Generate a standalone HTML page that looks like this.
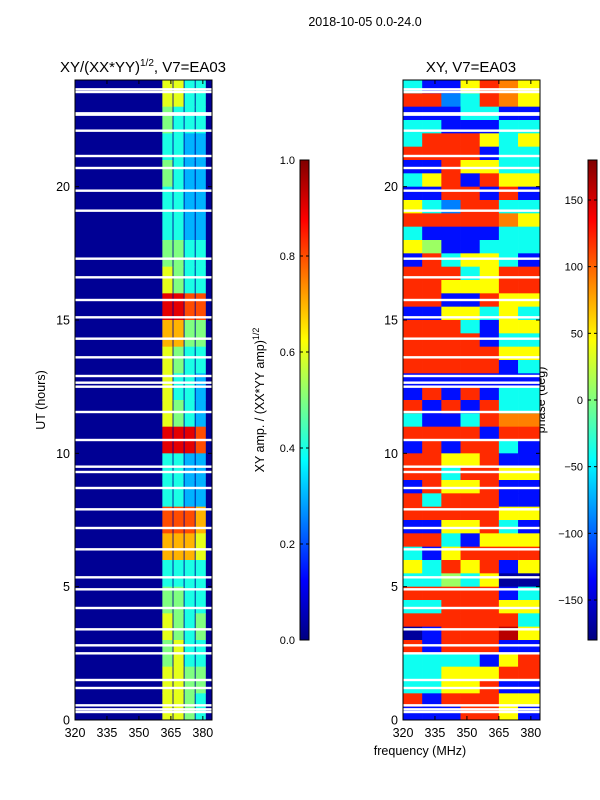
<!DOCTYPE html>
<html><head><meta charset="utf-8"><style>
body{margin:0;background:#fff;width:600px;height:800px;overflow:hidden}
svg{display:block;font-family:"Liberation Sans",sans-serif}
</style></head><body>
<svg id="s" width="600" height="800" xmlns="http://www.w3.org/2000/svg">
<text x="365" y="26" font-size="12.5" text-anchor="middle">2018-10-05 0.0-24.0</text>
<text x="143" y="72" font-size="15" text-anchor="middle">XY/(XX*YY)<tspan font-size="10" dy="-6">1/2</tspan><tspan dy="6">, V7=EA03</tspan></text>
<text x="471" y="72" font-size="15" text-anchor="middle">XY, V7=EA03</text>
<text transform="translate(45,400) rotate(-90)" font-size="12.5" text-anchor="middle">UT (hours)</text>
<text x="420" y="755" font-size="12.5" text-anchor="middle">frequency (MHz)</text>
<text transform="translate(264,400) rotate(-90)" font-size="12.5" text-anchor="middle">XY amp. / (XX*YY amp)<tspan font-size="9" dy="-5">1/2</tspan></text>
<text transform="translate(545,400) rotate(-90)" font-size="12.5" text-anchor="middle">phase (deg)</text>
<g id="g"></g>
</svg>
<script>
// ---- data ----
const hourRowsAmp = 24; // rows: hour 23-24 first
const ampSubbands = [[361,365.8],[366.2,371],[371.4,376.2],[376.6,381.4]];
const ampBackground = 0.02;
const ampValues = [
[6,6,4,4],[5,4,4,4],[4,4,3,3],[5,4,3,3],[4,4,3,3],[4,4,3,3],[5,5,4,4],[6,5,4,4],
[9,9,8,8],[7,7,5,5],[6,5,4,4],[6,4,4,3],[6,5,4,3],[9,9,9,8],[4,4,3,3],[4,4,3,3],
[8,8,8,7],[7,7,7,6],[4,4,4,4],[5,5,4,4],[6,5,4,5],[5,6,4,4],[6,6,5,5],[6,6,5,4]];
const phaseCols = [320,329,338,347,356,365,374,384.3];
const phaseCodes = {R:160,r:120,o:90,y:45,g:10,c:-40,l:-90,b:-130,B:-170};
const phaseRows = ["cbbyroy","rrlcroy","bbbccbb","ccbbbcc","crrrycy","rrrrbcc","bbryycc","cyrbryy",
"bbrrbrb","yclrrcc","rrrrroy","cbbbbcc","ygbbccc","brcyycb","rrrcyrr","rryyyrr",
"rrbbryy","bbyycyc","rrrcbyy","rrrrbcc","rrrrryy","rrrrrbc","bbbbbbb","brbrbcc",
"rbrbrcc","cbbcroo","rrrrbrr","brbrrcb","rryyrbb","rrcrryy","bryyrbb","rcrrrbb",
"rrrrryy","bbyyrcb","rrcbyyy","cbyrrrr","ycryrby","ccgcyBB","rrrrrbc","ccrrryy",
"rrrrrrc","BbrrrRy","rbrrrbb","ccccbyr","ccyyyrr","ccyyrbb","rbrrryy","bbbrryb"];
const gapHours = [23.65,23.55,22.75,22.7,22.1,21.15,20.7,19.85,19.1,17.3,16.6,15.75,15.1,14.3,13.6,12.9,12.65,12.5,11.55,10.5,9.5,9.3,8.7,7.9,7.2,6.4,5.35,4.9,4.2,3.4,2.8,2.5,1.5,1.2,0.55,0.4,0.3];
const yTicks = [0,5,10,15,20];
const xTicks = [320,335,350,365,380];
const ampTicks = [0,0.2,0.4,0.6,0.8,1.0];
const phaseTicks = [-150,-100,-50,0,50,100,150];

// ---- helpers ----
const NS="http://www.w3.org/2000/svg", G=document.getElementById('g');
function mk(t,a,p){const e=document.createElementNS(NS,t);for(const k in a)e.setAttribute(k,a[k]);(p||G).appendChild(e);return e;}
function jet(v){v=Math.max(0,Math.min(1,v));const f=x=>Math.round(255*Math.max(0,Math.min(1,x)));
return `rgb(${f(1.5-Math.abs(4*v-3))},${f(1.5-Math.abs(4*v-2))},${f(1.5-Math.abs(4*v-1))})`;}
const Y0=720,Y1=80,H0=0,H1=24;
const yS=h=>Y0-(h-H0)/(H1-H0)*(Y0-Y1);
const F0=320,F1=384.3;
function xS(px0,px1){return f=>px0+(f-F0)/(F1-F0)*(px1-px0);}
const panels=[{x0:75,x1:212,n:'amp'},{x0:403,x1:540,n:'phase'}];

// left amp panel
{const xs=xS(75,212);
 const bg=mk('rect',{x:75,y:80,width:137,height:640,fill:jet(ampBackground)});
 
 ampValues.forEach((row,i)=>{const hTop=H1-i*(H1-H0)/hourRowsAmp,hBot=hTop-(H1-H0)/hourRowsAmp;
  row.forEach((v,j)=>{const sb=ampSubbands[j];const x=xs(sb[0]),w=xs(sb[1])-x;
   const r=mk('rect',{x:x,y:yS(hTop),width:Math.max(0,Math.min(w,212-x)),height:yS(hBot)-yS(hTop)+0.5,fill:jet(v/10)});
   
   });});}
// right phase panel
{const xs=xS(403,540);
 phaseRows.forEach((row,i)=>{const hTop=H1-i*(H1-H0)/phaseRows.length,hBot=hTop-(H1-H0)/phaseRows.length;
  [...row].forEach((c,j)=>{const x=xs(phaseCols[j]),w=xs(phaseCols[j+1])-x;
   const r=mk('rect',{x:x,y:yS(hTop),width:w+0.3,height:yS(hBot)-yS(hTop)+0.5,fill:jet((phaseCodes[c]+180)/360)});
   
   });});}
// gaps + axes
panels.forEach(p=>{const xs=xS(p.x0,p.x1);
 gapHours.forEach(h=>{const r=mk('rect',{x:p.x0,y:yS(h)-1.2,width:p.x1-p.x0,height:2.4,fill:'#fff'});
  
  });
 const fr=mk('rect',{x:p.x0,y:80,width:p.x1-p.x0,height:640,fill:'none',stroke:'#000','stroke-width':1});
 
 
 yTicks.forEach(t=>{const y=yS(t);mk('line',{x1:p.x0,x2:p.x0+4,y1:y,y2:y,stroke:'#000'});mk('line',{x1:p.x1,x2:p.x1-4,y1:y,y2:y,stroke:'#000'});
  const tx=mk('text',{x:p.x0-5,y:y+4.5,'font-size':12.5,'text-anchor':'end'});tx.textContent=t;
  
  });
 xTicks.forEach(t=>{const x=xs(t);mk('line',{x1:x,x2:x,y1:720,y2:716,stroke:'#000'});mk('line',{x1:x,x2:x,y1:80,y2:84,stroke:'#000'});
  const tx=mk('text',{x:x,y:737,'font-size':12.5,'text-anchor':'middle'});tx.textContent=t;
  
  });
});
// colorbars
function cbar(x,name,ticks,lo,hi,fmt){
 const gid='grad-'+name;const d=mk('defs',{});const lg=mk('linearGradient',{id:gid,x1:0,y1:1,x2:0,y2:0},d);
 for(let k=0;k<=8;k++)mk('stop',{offset:k/8,'stop-color':jet(k/8)},lg);
 const r=mk('rect',{x:x,y:160,width:9,height:480,fill:`url(#${gid})`,stroke:'#000','stroke-width':1});
 
 
 ticks.forEach(t=>{const y=640-(t-lo)/(hi-lo)*480;mk('line',{x1:x,x2:x+3,y1:y,y2:y,stroke:'#000'});mk('line',{x1:x+9,x2:x+6,y1:y,y2:y,stroke:'#000'});
  const tx=mk('text',{x:x-5,y:y+4,'font-size':11,'text-anchor':'end'});tx.textContent=fmt(t);
  
  });}
cbar(300,'amp',ampTicks,0,1,t=>t.toFixed(1));
cbar(588,'phase',phaseTicks,-180,180,t=>t<0?'\u2212'+(-t):String(t));
</script>
</body></html>
